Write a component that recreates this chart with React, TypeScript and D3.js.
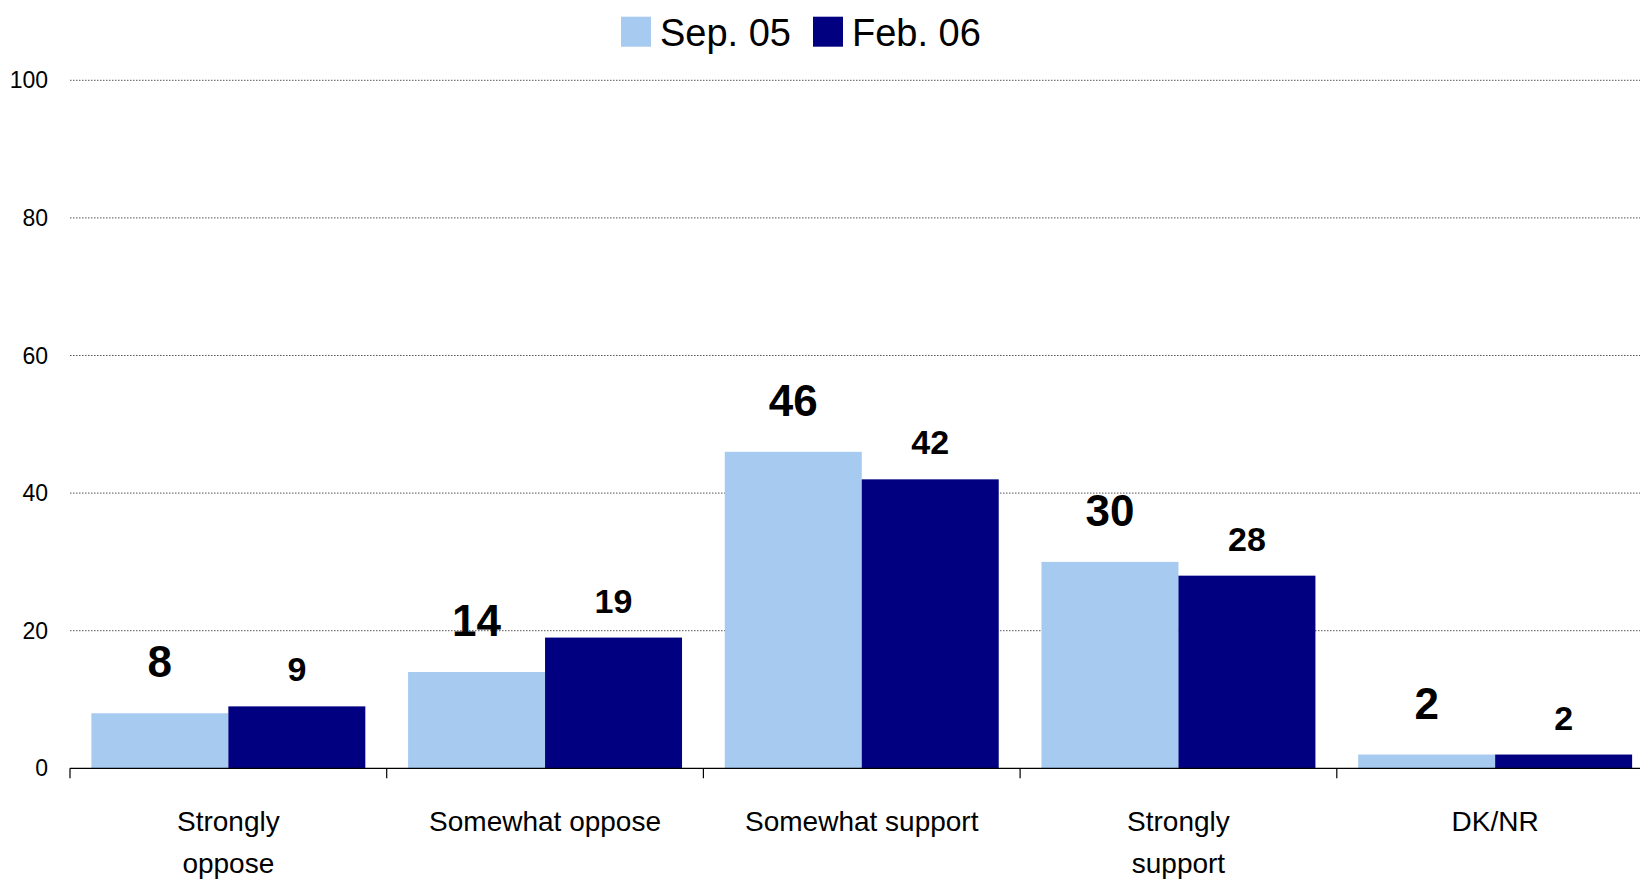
import React, { useEffect, useRef } from 'react';
import * as d3 from 'd3';

const categories = [
  ['Strongly', 'oppose'],
  ['Somewhat oppose'],
  ['Somewhat support'],
  ['Strongly', 'support'],
  ['DK/NR'],
];
const seriesNames = ['Sep. 05', 'Feb. 06'];
const sep05 = [8, 14, 46, 30, 2];
const feb06 = [9, 19, 42, 28, 2];
const yTicks = [0, 20, 40, 60, 80, 100];

const colors = ['#A6CAF0', '#000080'];
const FONT = '"Liberation Sans", Arial, sans-serif';

export default function App() {
  const ref = useRef<SVGSVGElement>(null);

  useEffect(() => {
    if (!ref.current) return;
    const svg = d3.select(ref.current);
    svg.selectAll('*').remove();

    const width = 1640;
    const left = 70;
    const step = 316.7;
    const top = 80.3;
    const bottom = 768.3;

    const keys = categories.map((c) => c.join(' '));
    const values = [sep05, feb06];

    // ------- Scales -------
    const x = d3
      .scaleBand<string>()
      .domain(keys)
      .range([left, left + step * keys.length])
      .paddingInner(0.135)
      .paddingOuter(0.0675);

    const x1 = d3
      .scaleBand<number>()
      .domain([0, 1])
      .range([0, x.bandwidth()]);

    const y = d3.scaleLinear().domain([0, 100]).range([bottom, top]);

    // ------- Grid -------
    svg
      .append('g')
      .selectAll('line')
      .data(yTicks.filter((t) => t > 0))
      .enter()
      .append('line')
      .attr('x1', left)
      .attr('x2', width)
      .attr('y1', (d) => y(d))
      .attr('y2', (d) => y(d))
      .attr('stroke', '#555')
      .attr('stroke-width', 1)
      .attr('stroke-dasharray', '1.5,1.5');

    // ------- Y labels -------
    svg
      .append('g')
      .selectAll('text')
      .data(yTicks)
      .enter()
      .append('text')
      .attr('x', 48)
      .attr('y', (d) => y(d) + 8)
      .attr('text-anchor', 'end')
      .attr('font-family', FONT)
      .attr('font-size', 23)
      .attr('fill', '#000')
      .text((d) => d);

    // ------- Bars -------
    values.forEach((vals, si) => {
      const g = svg.append('g');
      g.selectAll('rect')
        .data(vals)
        .enter()
        .append('rect')
        .attr('x', (_, i) => x(keys[i])! + x1(si)!)
        .attr('y', (d) => y(d))
        .attr('width', x1.bandwidth())
        .attr('height', (d) => y(0) - y(d))
        .attr('fill', colors[si]);

      g.selectAll('text')
        .data(vals)
        .enter()
        .append('text')
        .attr('x', (_, i) => x(keys[i])! + x1(si)! + x1.bandwidth() / 2)
        .attr('y', (d) => y(d) - (si === 0 ? 36 : 25))
        .attr('text-anchor', 'middle')
        .attr('font-family', FONT)
        .attr('font-weight', 'bold')
        .attr('font-size', si === 0 ? 44 : 34)
        .attr('fill', '#000')
        .text((d) => d);
    });

    // ------- X axis -------
    svg
      .append('line')
      .attr('x1', left)
      .attr('x2', width)
      .attr('y1', bottom)
      .attr('y2', bottom)
      .attr('stroke', '#000')
      .attr('stroke-width', 1.2);

    const boundaries = d3.range(keys.length + 1).map((i) => left + x.step() * i);
    svg
      .append('g')
      .selectAll('line')
      .data(boundaries)
      .enter()
      .append('line')
      .attr('x1', (d) => d)
      .attr('x2', (d) => d)
      .attr('y1', bottom)
      .attr('y2', bottom + 10)
      .attr('stroke', '#000')
      .attr('stroke-width', 1.2);

    const catLabels = svg
      .append('g')
      .selectAll('text')
      .data(categories)
      .enter()
      .append('text')
      .attr('text-anchor', 'middle')
      .attr('font-family', FONT)
      .attr('font-size', 28)
      .attr('fill', '#000');

    catLabels.each(function (lines, i) {
      const cx = left + x.step() * (i + 0.5);
      d3.select(this)
        .selectAll('tspan')
        .data(lines)
        .enter()
        .append('tspan')
        .attr('x', cx)
        .attr('y', (_, j) => 831 + j * 42)
        .text((d) => d);
    });

    // ------- Legend -------
    const legendX = [621, 813];
    const lg = svg.append('g');
    seriesNames.forEach((name, i) => {
      lg.append('rect')
        .attr('x', legendX[i])
        .attr('y', 16.7)
        .attr('width', 30)
        .attr('height', 30)
        .attr('fill', colors[i]);
      lg.append('text')
        .attr('x', legendX[i] + 39)
        .attr('y', 46)
        .attr('font-family', FONT)
        .attr('font-size', 38)
        .attr('fill', '#000')
        .text(name);
    });
  }, []);

  return (
    <svg
      ref={ref}
      width={1640}
      height={879}
      style={{ position: 'absolute', left: 0, top: 0, background: '#fff', overflow: 'hidden' }}
    />
  );
}
